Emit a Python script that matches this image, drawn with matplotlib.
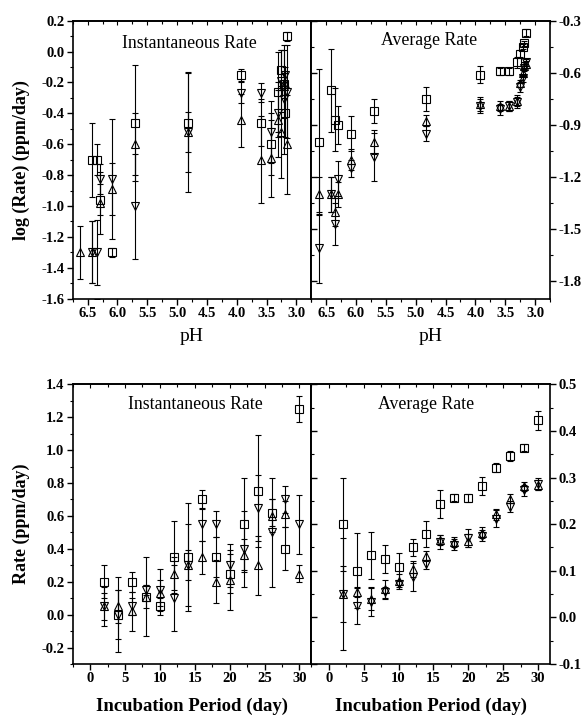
import numpy as np
import matplotlib
matplotlib.use('Agg')
import matplotlib.pyplot as plt
from matplotlib.ticker import MultipleLocator, FormatStrFormatter

plt.rcParams['font.family'] = ['Liberation Serif', 'DejaVu Serif']
plt.rcParams['font.weight'] = 'bold'
plt.rcParams['axes.unicode_minus'] = False

# ---------------- data ----------------
days = [2, 4, 6, 8, 10, 12, 14, 16, 18, 20, 22, 24, 26, 28, 30]
pH = [6.42, 6.62, 6.35, 6.30, 6.09, 5.70, 4.82, 3.93, 3.59, 3.43, 3.30, 3.25, 3.21, 3.19, 3.15]

# Instantaneous rate (ppm/day)
inst_sq = [0.20, 0.00, 0.20, 0.11, 0.05, 0.35, 0.35, 0.70, 0.35, 0.25, 0.55, 0.75, 0.62, 0.40, 1.25]
inst_sq_err = [0.10, 0.23, 0.06, 0.07, 0.05, 0.22, 0.33, 0.06, 0.12, 0.12, 0.28, 0.34, 0.08, 0.13, 0.08]
inst_up = [0.05, 0.05, 0.02, 0.11, 0.13, 0.25, 0.30, 0.35, 0.20, 0.21, 0.36, 0.30, 0.60, 0.61, 0.25]
inst_up_err = [0.08, 0.10, 0.12, 0.24, 0.08, 0.10, 0.09, 0.10, 0.13, 0.18, 0.10, 0.18, 0.10, 0.08, 0.05]
inst_dn = [0.05, 0.00, 0.05, 0.15, 0.15, 0.10, 0.30, 0.55, 0.55, 0.30, 0.40, 0.65, 0.50, 0.70, 0.55]
inst_dn_err = [0.12, 0.15, 0.05, 0.03, 0.13, 0.20, 0.25, 0.10, 0.08, 0.13, 0.23, 0.20, 0.33, 0.08, 0.18]

# Average rate (ppm/day)
avg_sq = [0.200, 0.100, 0.133, 0.125, 0.109, 0.150, 0.179, 0.243, 0.257, 0.256, 0.282, 0.321, 0.346, 0.364, 0.423]
avg_sq_err = [0.100, 0.080, 0.050, 0.030, 0.030, 0.018, 0.028, 0.030, 0.008, 0.008, 0.020, 0.010, 0.010, 0.007, 0.020]
avg_up = [0.050, 0.054, 0.040, 0.060, 0.079, 0.104, 0.132, 0.166, 0.162, 0.164, 0.182, 0.221, 0.255, 0.281, 0.284]
avg_up_err = [0.120, 0.010, 0.025, 0.020, 0.014, 0.018, 0.010, 0.011, 0.011, 0.014, 0.011, 0.012, 0.010, 0.010, 0.010]
avg_dn = [0.050, 0.025, 0.032, 0.054, 0.071, 0.086, 0.114, 0.161, 0.156, 0.170, 0.175, 0.212, 0.237, 0.273, 0.286]
avg_dn_err = [0.060, 0.040, 0.030, 0.012, 0.010, 0.030, 0.010, 0.015, 0.012, 0.020, 0.012, 0.018, 0.012, 0.012, 0.012]

# log(Instantaneous rate) vs pH
loginst_sq = [-0.70, np.nan, -0.70, -0.96, -1.30, -0.46, -0.46, -0.15, -0.46, -0.60, -0.26, -0.12, -0.21, -0.40, 0.10]
loginst_sq_err = [0.24, np.nan, 0.10, 0.10, 0.03, 0.375, 0.32, 0.04, 0.15, 0.20, 0.26, 0.13, 0.22, 0.15, 0.03]
loginst_up = [-1.30, -1.30, -1.70, -0.98, -0.89, -0.60, -0.52, -0.445, -0.70, -0.69, -0.44, -0.52, -0.22, -0.21, -0.60]
loginst_up_err = [0.20, 0.17, 0.10, 0.20, 0.17, 0.20, 0.13, 0.17, 0.28, 0.25, 0.24, 0.30, 0.08, 0.07, 0.32]
loginst_dn = [-1.30, np.nan, -1.30, -0.825, -0.825, -1.00, -0.52, -0.265, -0.265, -0.52, -0.40, -0.19, -0.31, -0.15, -0.26]
loginst_dn_err = [0.20, np.nan, 0.21, 0.10, 0.39, 0.34, 0.39, 0.07, 0.06, 0.20, 0.15, 0.20, 0.35, 0.05, 0.30]

# log(Average rate) vs pH
logavg_sq = [-0.70, -1.00, -0.87, -0.90, -0.95, -0.82, -0.75, -0.61, -0.59, -0.59, -0.54, -0.49, -0.45, -0.43, -0.37]
logavg_sq_err = [0.24, 0.42, 0.18, 0.11, 0.10, 0.07, 0.067, 0.048, 0.02, 0.02, 0.03, 0.02, 0.015, 0.015, 0.02]
logavg_up = [-1.30, -1.30, -1.40, -1.30, -1.10, -1.00, -0.875, -0.78, -0.79, -0.79, -0.76, -0.66, -0.60, -0.56, -0.55]
logavg_up_err = [0.10, 0.10, 0.08, 0.07, 0.06, 0.07, 0.03, 0.04, 0.03, 0.03, 0.03, 0.02, 0.02, 0.02, 0.02]
logavg_dn = [-1.30, -1.61, -1.47, -1.21, -1.15, -1.085, -0.95, -0.79, -0.81, -0.79, -0.77, -0.68, -0.63, -0.57, -0.54]
logavg_dn_err = [0.10, 0.20, 0.12, 0.10, 0.05, 0.14, 0.045, 0.04, 0.03, 0.03, 0.03, 0.03, 0.02, 0.02, 0.02]

# ---------------- figure ----------------
W, H = 583, 716
fig = plt.figure(figsize=(W / 100, H / 100), dpi=100)

def frac(x0, y0, x1, y1):
    return [x0 / W, 1 - y1 / H, (x1 - x0) / W, (y1 - y0) / H]

ax_tl = fig.add_axes(frac(72.7, 20.7, 311.3, 298.7))
ax_tr = fig.add_axes(frac(311.3, 20.7, 550.0, 298.7))
ax_bl = fig.add_axes(frac(72.7, 384.3, 311.3, 664.0))
ax_br = fig.add_axes(frac(311.3, 384.3, 550.0, 664.0))

MARKERS = [('s', 5.2), ('^', 6.2), ('v', 6.2)]

def draw(ax, x, ys, errs):
    for (m, ms), y, e in zip(MARKERS, ys, errs):
        ax.errorbar(x, y, yerr=e, fmt=m, ms=ms, mfc='none', mec='black', mew=0.8,
                    ecolor='black', elinewidth=0.8, capsize=2.5, capthick=0.8,
                    clip_on=True)

draw(ax_tl, pH, [loginst_sq, loginst_up, loginst_dn], [loginst_sq_err, loginst_up_err, loginst_dn_err])
draw(ax_tr, pH, [logavg_sq, logavg_up, logavg_dn], [logavg_sq_err, logavg_up_err, logavg_dn_err])
draw(ax_bl, days, [inst_sq, inst_up, inst_dn], [inst_sq_err, inst_up_err, inst_dn_err])
draw(ax_br, days, [avg_sq, avg_up, avg_dn], [avg_sq_err, avg_up_err, avg_dn_err])

def style(ax, xmaj, ymaj, yfmt, side):
    for s in ax.spines.values():
        s.set_linewidth(1.2)
    ax.xaxis.set_major_locator(MultipleLocator(xmaj))
    ax.xaxis.set_minor_locator(MultipleLocator(xmaj / 2))
    ax.yaxis.set_major_locator(MultipleLocator(ymaj))
    ax.yaxis.set_minor_locator(MultipleLocator(ymaj / 2))
    ax.yaxis.set_major_formatter(FormatStrFormatter(yfmt))
    ax.tick_params(which='major', direction='out', length=4, width=1.0, labelsize=10.5, pad=2)
    ax.tick_params(which='minor', direction='out', length=2.5, width=0.8)
    if side == 'right':
        ax.yaxis.tick_right()
        sec = ax.secondary_yaxis('left')
        sec.yaxis.set_major_locator(MultipleLocator(ymaj))
        sec.yaxis.set_minor_locator(MultipleLocator(ymaj / 2))
        sec.tick_params(which='major', direction='in', length=4, width=1.0, labelleft=False)
        sec.tick_params(which='minor', direction='in', length=2.5, width=0.8)
        sec.spines['left'].set_linewidth(1.2)
    top = ax.secondary_xaxis('top')
    top.xaxis.set_major_locator(MultipleLocator(xmaj))
    top.xaxis.set_minor_locator(MultipleLocator(xmaj / 2))
    top.tick_params(which='major', direction='in', length=3, width=0.8, labeltop=False)
    top.tick_params(which='minor', direction='in', length=2, width=0.8)
    top.spines['top'].set_linewidth(1.2)

for ax in (ax_tl, ax_tr):
    ax.set_xlim(6.75, 2.75)
    ax.xaxis.set_major_formatter(FormatStrFormatter('%.1f'))
ax_tl.set_ylim(-1.6, 0.2)
ax_tr.set_ylim(-1.9, -0.3)
for ax in (ax_bl, ax_br):
    ax.set_xlim(-2.5, 31.7)
ax_bl.set_ylim(-0.3, 1.4)
ax_br.set_ylim(-0.1, 0.5)

style(ax_tl, 0.5, 0.2, '%.1f', 'left')
style(ax_tr, 0.5, 0.3, '%.1f', 'right')
style(ax_bl, 5, 0.2, '%.1f', 'left')
style(ax_br, 5, 0.1, '%.1f', 'right')
ax_bl.xaxis.set_major_formatter(FormatStrFormatter('%d'))
ax_br.xaxis.set_major_formatter(FormatStrFormatter('%d'))

# labels
for ax in (ax_tl, ax_tr):
    ax.set_xlabel('pH', fontsize=14, fontweight='normal', labelpad=6)
ax_tl.set_ylabel('log (Rate) (ppm/day)', fontsize=13, fontweight='bold', labelpad=8)
ax_bl.set_ylabel('Rate (ppm/day)', fontsize=13, fontweight='bold', labelpad=8)
for ax in (ax_bl, ax_br):
    ax.set_xlabel('Incubation Period (day)', fontsize=13.5, fontweight='bold', labelpad=9)

ax_tl.text(0.49, 0.919, 'Instantaneous Rate', transform=ax_tl.transAxes, ha='center', va='center',
           fontsize=12.8, fontweight='normal')
ax_tr.text(0.493, 0.927, 'Average Rate', transform=ax_tr.transAxes, ha='center', va='center',
           fontsize=12.8, fontweight='normal')
ax_bl.text(0.513, 0.926, 'Instantaneous Rate', transform=ax_bl.transAxes, ha='center', va='center',
           fontsize=12.8, fontweight='normal')
ax_br.text(0.48, 0.926, 'Average Rate', transform=ax_br.transAxes, ha='center', va='center',
           fontsize=12.8, fontweight='normal')

fig.savefig('out.png', dpi=100)
